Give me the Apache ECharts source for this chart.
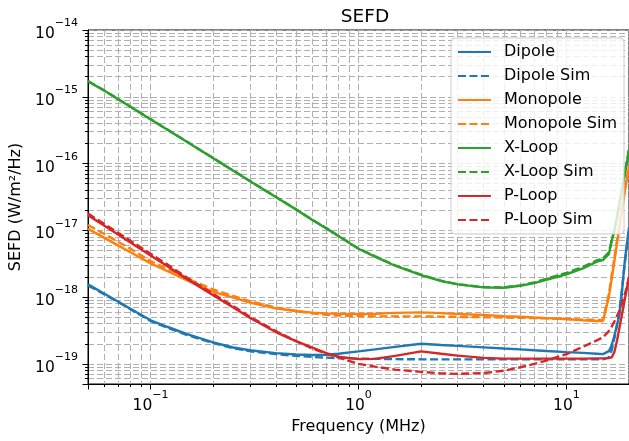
<!DOCTYPE html>
<html><head><meta charset="utf-8">
<script src="https://cdn.jsdelivr.net/npm/echarts@6/dist/echarts.min.js"></script>
<style>html,body{margin:0;padding:0;background:#fff}#c{width:629px;height:441px}</style>
</head><body><div id="c"></div>
<script>
const freqs = [0.05,0.06,0.07,0.08,0.1,0.12,0.15,0.2,0.25,0.3,0.4,0.5,0.6,0.7,0.8,1.0,1.2,1.5,2.0,2.5,3,4,5,6,7,8,10,12,14,15,16,16.5,17,17.5,18,18.5,19,19.5,20];
const dipole = [1.55e-18,1.12e-18,8.5e-19,6.7e-19,4.5e-19,3.6e-19,2.8e-19,2.1e-19,1.76e-19,1.6e-19,1.45e-19,1.38e-19,1.36e-19,1.37e-19,1.42e-19,1.54e-19,1.65e-19,1.8e-19,2.0e-19,1.92e-19,1.86e-19,1.77e-19,1.7e-19,1.65e-19,1.6e-19,1.56e-19,1.5e-19,1.46e-19,1.42e-19,1.4e-19,1.55e-19,1.9e-19,2.6e-19,3.8e-19,5.5e-19,1.2e-18,3e-18,6e-18,1.1e-17];
const dipoleSim = [1.5e-18,1.1e-18,8.4e-19,6.6e-19,4.4e-19,3.5e-19,2.7e-19,2.05e-19,1.72e-19,1.55e-19,1.4e-19,1.32e-19,1.27e-19,1.24e-19,1.22e-19,1.2e-19,1.19e-19,1.18e-19,1.17e-19,1.17e-19,1.17e-19,1.17e-19,1.17e-19,1.17e-19,1.17e-19,1.17e-19,1.17e-19,1.17e-19,1.17e-19,1.17e-19,1.25e-19,1.6e-19,2.4e-19,3.8e-19,6.5e-19,1.3e-18,2.8e-18,5.5e-18,1e-17];
const monopole = [1.05e-17,7.7e-18,5.9e-18,4.7e-18,3.2e-18,2.46e-18,1.78e-18,1.2e-18,9.8e-19,8.3e-19,6.8e-19,6.2e-19,5.85e-19,5.7e-19,5.65e-19,5.6e-19,5.65e-19,5.8e-19,5.9e-19,5.75e-19,5.6e-19,5.4e-19,5.2e-19,5.07e-19,4.95e-19,4.85e-19,4.7e-19,4.5e-19,4.4e-19,4.4e-19,1.0e-18,1.86e-18,3.4e-18,6.3e-18,1.13e-17,2e-17,3.5e-17,5.6e-17,9e-17];
const monopoleSim = [1.2e-17,8.8e-18,6.7e-18,5.3e-18,3.45e-18,2.65e-18,1.9e-18,1.3e-18,1.04e-18,8.7e-19,7.0e-19,6.2e-19,5.7e-19,5.45e-19,5.3e-19,5.2e-19,5.15e-19,5.15e-19,5.15e-19,5.1e-19,5.05e-19,5.0e-19,4.95e-19,4.9e-19,4.85e-19,4.8e-19,4.7e-19,4.6e-19,4.55e-19,4.6e-19,1.1e-18,2.1e-18,3.8e-18,7e-18,1.25e-17,2.2e-17,3.8e-17,6e-17,9.5e-17];
const xloop = [1.7e-15,1.23e-15,9.15e-16,7.07e-16,4.6e-16,3.23e-16,2.1e-16,1.2e-16,7.8e-17,5.5e-17,3.16e-17,2.06e-17,1.43e-17,1.07e-17,8.2e-18,5.3e-18,4.05e-18,2.95e-18,2.14e-18,1.74e-18,1.55e-18,1.4e-18,1.38e-18,1.48e-18,1.62e-18,1.82e-18,2.2e-18,2.7e-18,3.4e-18,3.6e-18,4.4e-18,6.9e-18,9.8e-18,1.55e-17,2.5e-17,4e-17,6.3e-17,1e-16,1.6e-16];
const xloopSim = [1.72e-15,1.24e-15,9.2e-16,7.1e-16,4.62e-16,3.25e-16,2.12e-16,1.21e-16,7.85e-17,5.5e-17,3.18e-17,2.07e-17,1.44e-17,1.08e-17,8.3e-18,5.35e-18,4.1e-18,3.0e-18,2.17e-18,1.76e-18,1.56e-18,1.41e-18,1.4e-18,1.5e-18,1.66e-18,1.88e-18,2.3e-18,2.85e-18,3.55e-18,3.8e-18,4.7e-18,7e-18,1.0e-17,1.6e-17,2.6e-17,4.1e-17,6.5e-17,1.05e-16,1.65e-16];
const ploop = [1.68e-17,1.17e-17,8.6e-18,6.6e-18,4.2e-18,2.92e-18,1.86e-18,1.07e-18,7e-19,4.9e-19,3.0e-19,2.2e-19,1.75e-19,1.45e-19,1.28e-19,1.18e-19,1.19e-19,1.32e-19,1.54e-19,1.42e-19,1.33e-19,1.23e-19,1.2e-19,1.2e-19,1.2e-19,1.2e-19,1.2e-19,1.2e-19,1.21e-19,1.21e-19,1.22e-19,1.25e-19,1.5e-19,2.2e-19,3.5e-19,5.5e-19,8.5e-19,1.3e-18,2e-18];
const ploopSim = [1.78e-17,1.24e-17,9.1e-18,7e-18,4.45e-18,3.1e-18,1.95e-18,1.12e-18,7.3e-19,5.1e-19,3.1e-19,2.2e-19,1.7e-19,1.42e-19,1.25e-19,1.0e-19,9.1e-20,8.2e-20,7.6e-20,7.2e-20,7.1e-20,7.3e-20,7.9e-20,8.9e-20,1.0e-19,1.12e-19,1.4e-19,1.8e-19,2.25e-19,2.5e-19,3.1e-19,3.6e-19,4.3e-19,5.2e-19,6.3e-19,8e-19,1.05e-18,1.4e-18,2e-18];

const seriesNames = ['Dipole','Dipole Sim','Monopole','Monopole Sim','X-Loop','X-Loop Sim','P-Loop','P-Loop Sim'];
const seriesValues = [dipole, dipoleSim, monopole, monopoleSim, xloop, xloopSim, ploop, ploopSim];
const colors = ['#1f77b4','#1f77b4','#ff7f0e','#ff7f0e','#2ca02c','#2ca02c','#d62728','#d62728'];
const FONT = 'DejaVu Sans';

function powLabel(v){
  const e = Math.round(Math.log10(v));
  if (Math.abs(v/Math.pow(10,e) - 1) > 1e-6) return '';
  const s = e < 0 ? '\u2212' + (-e) : String(e);
  return '{b|10}{e|' + s + '}';
}
const richLbl = {
  b: {fontSize: 15.5, fontFamily: FONT, color: '#000', lineHeight: 24, verticalAlign: 'bottom'},
  e: {fontSize: 11, fontFamily: FONT, color: '#000', lineHeight: 13, verticalAlign: 'top'}
};
const gridLine = {show: true, lineStyle: {color: '#b0b0b0', width: 1, type: [6,3]}};

const chart = echarts.init(document.getElementById('c'), null, {renderer: 'canvas'});
chart.setOption({
  animation: false,
  backgroundColor: '#fff',
  title: {text: 'SEFD', left: 360, top: 3, textAlign: 'center',
    textStyle: {fontFamily: FONT, fontSize: 18.5, fontWeight: 'normal', color: '#000'}},
  grid: {left: 88, top: 30, width: 544, height: 354, show: true, borderColor: '#000', borderWidth: 1, backgroundColor: 'transparent'},
  legend: {orient: 'vertical', right: 5, top: 38, itemWidth: 33, itemHeight: 14, itemGap: 8,
    padding: [6, 7, 6, 6], backgroundColor: 'rgba(255,255,255,0.8)', borderColor: '#cccccc', borderWidth: 1, borderRadius: 4,
    itemStyle: {opacity: 0},
    textStyle: {fontSize: 16, lineHeight: 14, fontFamily: FONT, color: '#000', padding: [0,0,0,8]},
    data: seriesNames},
  xAxis: {type: 'log', logBase: 10, min: 0.05, max: 20,
    name: 'Frequency (MHz)', nameLocation: 'middle', nameGap: 33,
    nameTextStyle: {fontFamily: FONT, fontSize: 16, color: '#000'},
    axisLine: {show: true, lineStyle: {color: '#000', width: 1}},
    axisTick: {show: true, length: 5.5, lineStyle: {color: '#000'}},
    minorTick: {show: true, splitNumber: 9, length: 3, lineStyle: {color: '#000'}},
    splitLine: gridLine, minorSplitLine: gridLine,
    axisLabel: {formatter: powLabel, rich: richLbl, margin: 6, showMinLabel: false, showMaxLabel: false}},
  yAxis: {type: 'log', logBase: 10, min: 5e-20, max: 1e-14,
    name: 'SEFD (W/m\u00b2/Hz)', nameLocation: 'middle', nameGap: 63,
    nameTextStyle: {fontFamily: FONT, fontSize: 16, color: '#000'},
    axisLine: {show: true, lineStyle: {color: '#000', width: 1}},
    axisTick: {show: true, length: 5.5, lineStyle: {color: '#000'}},
    minorTick: {show: true, splitNumber: 9, length: 3, lineStyle: {color: '#000'}},
    splitLine: gridLine, minorSplitLine: gridLine,
    axisLabel: {formatter: powLabel, rich: richLbl, margin: 10, showMinLabel: false}},
  series: seriesNames.map((n, i) => ({
    name: n, type: 'line', symbol: 'none', showSymbol: false,
    data: freqs.map((f, j) => [f, seriesValues[i][j]]),
    lineStyle: {color: colors[i], width: 2.4, type: n.endsWith('Sim') ? [8, 3.5] : 'solid'},
    itemStyle: {color: colors[i]}
  }))
});
</script></body></html>
